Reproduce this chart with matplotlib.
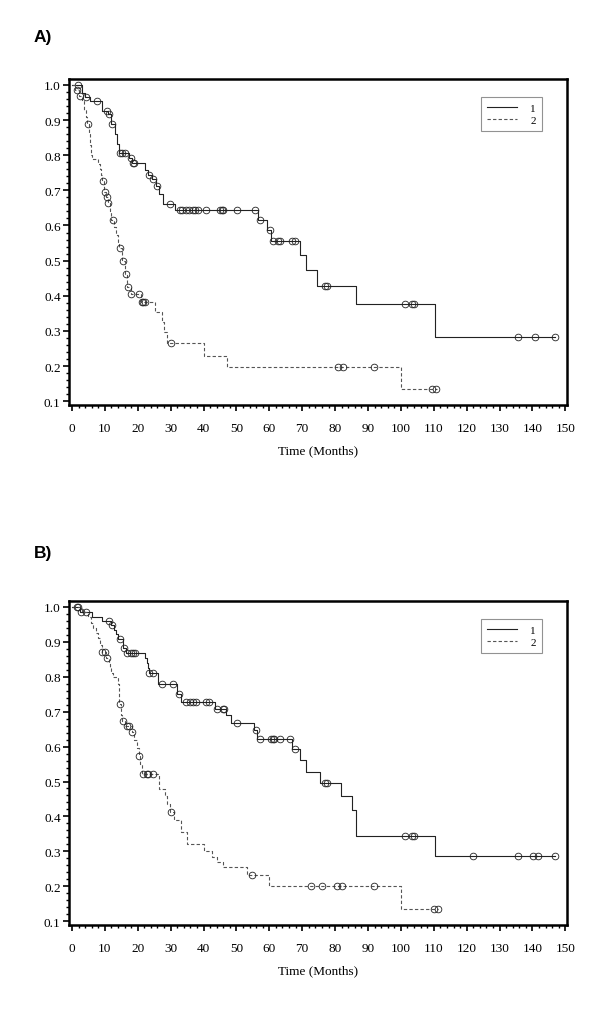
import numpy as np
import matplotlib
matplotlib.use("Agg")
import matplotlib.pyplot as plt
from matplotlib.ticker import MultipleLocator

# ---------------- data ----------------
# Panel A, group 1: event times and survival after each drop
a1_t = [3.0, 4.0, 5.5, 9.0, 11.0, 11.9, 13.0, 13.6, 14.2, 17.3, 18.3, 22.2, 23.0,
        24.2, 25.5, 26.5, 27.6, 31.3, 56.6, 59.2, 60.6, 69.3, 71.3, 74.6, 86.3, 110.3]
a1_s = [0.977, 0.965, 0.954, 0.927, 0.916, 0.889, 0.860, 0.833, 0.806, 0.792, 0.778,
        0.758, 0.744, 0.731, 0.713, 0.690, 0.661, 0.644, 0.616, 0.588, 0.557, 0.515,
        0.473, 0.429, 0.376, 0.283]
a1_cens = [1.9, 4.3, 7.5, 10.8, 11.2, 12.1, 14.6, 15.2, 16.1, 17.9, 18.6, 19.0, 23.4,
           24.5, 25.9, 29.8, 32.8, 33.5, 34.7, 35.5, 36.7, 37.5, 38.4, 40.9, 45.0,
           45.5, 46.0, 50.2, 55.6, 57.3, 60.2, 61.2, 62.5, 63.2, 66.8, 67.8, 76.9,
           77.6, 101.2, 103.5, 104.0, 135.7, 140.7, 146.8]
a1_end = 147.0

# Panel A, group 2
a2_t = [1.0, 2.0, 3.2, 3.6, 4.2, 4.7, 5.2, 5.5, 5.8, 6.0, 8.0, 8.4, 8.8, 9.1, 9.8,
        10.5, 10.9, 11.5, 12.0, 12.8, 13.4, 14.0, 14.4, 15.1, 16.0, 16.8, 17.8,
        20.9, 25.2, 27.3, 28.0, 29.0, 40.0, 47.0, 100.0]
a2_s = [0.985, 0.970, 0.955, 0.930, 0.910, 0.889, 0.860, 0.830, 0.800, 0.790, 0.775,
        0.760, 0.744, 0.728, 0.696, 0.682, 0.664, 0.641, 0.617, 0.595, 0.572, 0.553,
        0.535, 0.500, 0.462, 0.424, 0.405, 0.383, 0.353, 0.325, 0.296, 0.265, 0.228,
        0.197, 0.134]
a2_cens = [1.4, 2.4, 5.0, 9.3, 10.0, 10.7, 11.1, 12.4, 14.6, 15.4, 16.4, 17.1, 18.1,
           20.5, 21.2, 21.7, 22.2, 30.0, 80.8, 82.4, 91.8, 109.5, 110.8]
a2_end = 111.0

# Panel B, group 1
b1_t = [2.5, 6.0, 9.0, 11.8, 12.8, 13.3, 14.0, 15.5, 16.3, 22.2, 22.8, 23.2, 23.4,
        26.2, 32.0, 33.3, 43.5, 46.8, 48.5, 55.3, 56.3, 67.0, 69.3, 71.3, 75.4,
        81.7, 85.0, 86.3, 110.3]
b1_s = [0.985, 0.971, 0.960, 0.948, 0.935, 0.922, 0.909, 0.883, 0.869, 0.855, 0.840,
        0.826, 0.812, 0.779, 0.750, 0.728, 0.709, 0.690, 0.669, 0.648, 0.623, 0.594,
        0.561, 0.528, 0.495, 0.458, 0.419, 0.345, 0.288]
b1_cens = [1.9, 2.9, 11.2, 12.1, 14.6, 15.9, 16.6, 18.1, 18.6, 19.1, 23.5, 24.7,
           27.3, 30.8, 32.6, 34.7, 35.9, 36.9, 37.7, 40.7, 41.7, 44.0, 45.8, 46.2,
           50.2, 55.9, 57.1, 60.4, 61.0, 61.5, 63.2, 66.3, 67.8, 76.9, 77.6, 101.2,
           103.3, 104.0, 121.8, 135.7, 140.2, 141.7, 146.8]
b1_end = 147.0

# Panel B, group 2
b2_t = [3.0, 5.0, 5.8, 6.5, 7.3, 8.0, 8.6, 9.0, 10.5, 11.2, 11.6, 12.0, 12.4, 14.0,
        14.2, 14.3, 14.4, 15.0, 15.3, 16.0, 18.2, 19.0, 19.7, 20.3, 20.8, 21.2,
        26.5, 28.3, 29.0, 29.7, 31.0, 33.0, 35.0, 40.0, 42.5, 44.0, 46.0, 53.1,
        60.0, 100.0]
b2_s = [0.985, 0.970, 0.955, 0.940, 0.925, 0.910, 0.890, 0.871, 0.855, 0.840, 0.825,
        0.810, 0.798, 0.780, 0.760, 0.740, 0.721, 0.690, 0.674, 0.660, 0.642, 0.620,
        0.597, 0.574, 0.550, 0.521, 0.479, 0.458, 0.436, 0.414, 0.389, 0.354, 0.320,
        0.300, 0.285, 0.270, 0.254, 0.231, 0.200, 0.135]
b2_cens = [1.6, 4.3, 9.0, 10.0, 10.8, 14.6, 15.4, 16.6, 17.4, 18.4, 20.5, 21.5, 22.7,
           23.2, 24.5, 30.0, 54.6, 72.6, 76.0, 80.5, 82.0, 91.8, 110.0, 111.2]
b2_end = 111.4

group_labels = ["1", "2"]
panel_labels = ["A)", "B)"]
x_label = "Time (Months)"
x_ticks = list(range(0, 151, 10))
y_ticks = [0.1, 0.2, 0.3, 0.4, 0.5, 0.6, 0.7, 0.8, 0.9, 1.0]

# ---------------- drawing ----------------
W, H = 600, 1012
fig = plt.figure(figsize=(W / 100, H / 100), dpi=100)
serif = ["Liberation Serif", "DejaVu Serif"]


def km_curve(ax, t, s, cens, end, ls, color, label):
    tt = np.concatenate([[0.0], t, [end]])
    ss = np.concatenate([[1.0], s, [s[-1]]])
    ax.step(tt, ss, where="post", ls=ls, color=color, lw=0.8, label=label,
            dashes=(3, 2) if ls == "--" else (None, None))
    c = np.asarray(cens)
    idx = np.searchsorted(np.asarray(t), c, side="right")
    cs = np.concatenate([[1.0], s])[idx]
    ax.plot(c, cs, ls="none", marker="o", ms=4.8, mfc="none", mec="#222222", mew=0.6)


panels = [
    (a1_t, a1_s, a1_cens, a1_end, a2_t, a2_s, a2_cens, a2_end, 80, 406, 42),
    (b1_t, b1_s, b1_cens, b1_end, b2_t, b2_s, b2_cens, b2_end, 602, 926, 558),
]

for i, (t1, s1, c1, e1, t2, s2, c2, e2, top, bot, lab_y) in enumerate(panels):
    left, right = 69, 567
    ax = fig.add_axes([left / W, 1 - bot / H, (right - left) / W, (bot - top) / H])
    km_curve(ax, t1, s1, c1, e1, "-", "#222222", group_labels[0])
    km_curve(ax, t2, s2, c2, e2, "--", "#555555", group_labels[1])
    ax.set_xlim(-0.9, 150.5)
    ax.set_ylim(0.089, 1.017)
    ax.set_xticks(x_ticks)
    ax.set_yticks(y_ticks)
    ax.set_yticklabels([f"{v:.1f}" for v in y_ticks])
    ax.xaxis.set_minor_locator(MultipleLocator(2))
    ax.yaxis.set_minor_locator(MultipleLocator(0.02))
    ax.tick_params(which="major", direction="out", length=4, width=1.2,
                   labelsize=9.5, pad=8)
    ax.tick_params(axis="y", which="major", pad=2)
    ax.tick_params(which="minor", direction="out", length=2, width=1.0)
    for lab in ax.get_xticklabels() + ax.get_yticklabels():
        lab.set_family(serif)
    for sp in ax.spines.values():
        sp.set_linewidth(1.8)
    ax.set_xlabel(x_label, family=serif, fontsize=9.5, labelpad=8)
    leg = ax.legend(loc="upper right", bbox_to_anchor=(0.95, 0.945), borderaxespad=0,
                    prop={"family": serif, "size": 8}, frameon=True, fancybox=False,
                    edgecolor="#777777", handlelength=2.7, borderpad=0.55,
                    labelspacing=0.25, handletextpad=1.2)
    leg.get_frame().set_linewidth(0.8)
    fig.text(34 / W, 1 - lab_y / H, panel_labels[i], fontsize=12.5, fontweight="bold",
             family=["Liberation Sans", "DejaVu Sans"], va="baseline", ha="left")

fig.savefig("out.png", dpi=100)
